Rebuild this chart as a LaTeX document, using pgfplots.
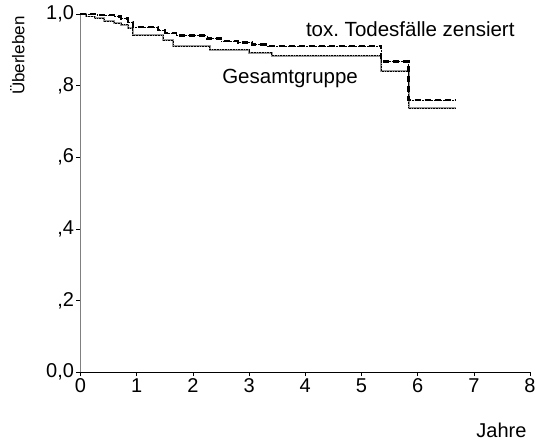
\documentclass[border=0pt]{standalone}
\usepackage{pgfplots}
\pgfplotsset{compat=1.18}
\usepackage{pgfplotstable}
\usepackage{fontspec}
\setmainfont{Liberation Sans}
\pgfplotstableread{
x y
0 1.000
0.10 0.993
0.25 0.988
0.42 0.980
0.60 0.975
0.72 0.970
0.85 0.960
0.93 0.940
1.47 0.927
1.65 0.911
2.30 0.900
3.00 0.892
3.40 0.884
5.35 0.840
5.84 0.737
6.68 0.737
}\gesamt
\pgfplotstableread{
x y
0 1.000
0.30 0.997
0.60 0.993
0.72 0.987
0.85 0.978
0.93 0.964
1.38 0.955
1.50 0.947
1.70 0.940
2.25 0.932
2.50 0.925
2.80 0.920
3.05 0.915
3.30 0.911
5.35 0.867
5.84 0.760
6.68 0.760
}\tox
\begin{document}
\begin{tikzpicture}
\begin{axis}[
  at={(0,0)}, anchor=south west,
  scale only axis, width=449.5bp, height=358bp,
  xmin=0, xmax=8, ymin=0, ymax=1,
  axis x line*=bottom, axis y line*=left,
  x axis line style={black, line width=0.8pt, -},
  y axis line style={gray, line width=1pt, -},
  tick align=outside, major tick length=4bp,
  tick style={black, line width=0.6pt},
  xtick={0,1,...,8},
  ytick={0,0.2,0.4,0.6,0.8,1},
  yticklabels={{0,0},{,2},{,4},{,6},{,8},{1,0}},
  /pgf/number format/assume math mode=true,
  ticklabel style={font=\fontsize{20bp}{24bp}\selectfont},
  xticklabel style={yshift=1bp},
  yticklabel style={xshift=1bp},
  xlabel={Jahre},
  ylabel={Überleben},
  xlabel style={at={(rel axis cs:1,-0.184)}, anchor=base east, font=\fontsize{20bp}{24bp}\selectfont},
  every axis y label/.style={at={(rel axis cs:-0.125,1.003)}, rotate=90, anchor=base east, font=\fontsize{17bp}{20bp}\selectfont},
  clip=false,
]
\addplot[const plot, gray!80, line width=2pt] table {\gesamt};
\addplot[const plot, black, line width=0.6pt, densely dotted] table {\gesamt};
\addplot[const plot, black, line width=0.5pt, densely dotted] table {\tox};
\addplot[const plot, black, line width=2.4pt, dash pattern=on 6bp off 4bp] table {\tox};
\node[anchor=base west, font=\fontsize{20.5bp}{24bp}\selectfont, inner sep=0pt] at (axis cs:4.01,0.936) {tox.\ Todesfälle zensiert};
\node[anchor=base west, font=\fontsize{20.5bp}{24bp}\selectfont, inner sep=0pt] at (axis cs:2.52,0.806) {Gesamtgruppe};
\end{axis}
\pgfresetboundingbox
\path[use as bounding box] (-80.5bp,-71bp) rectangle (454.5bp,372bp);
\end{tikzpicture}
\end{document}
